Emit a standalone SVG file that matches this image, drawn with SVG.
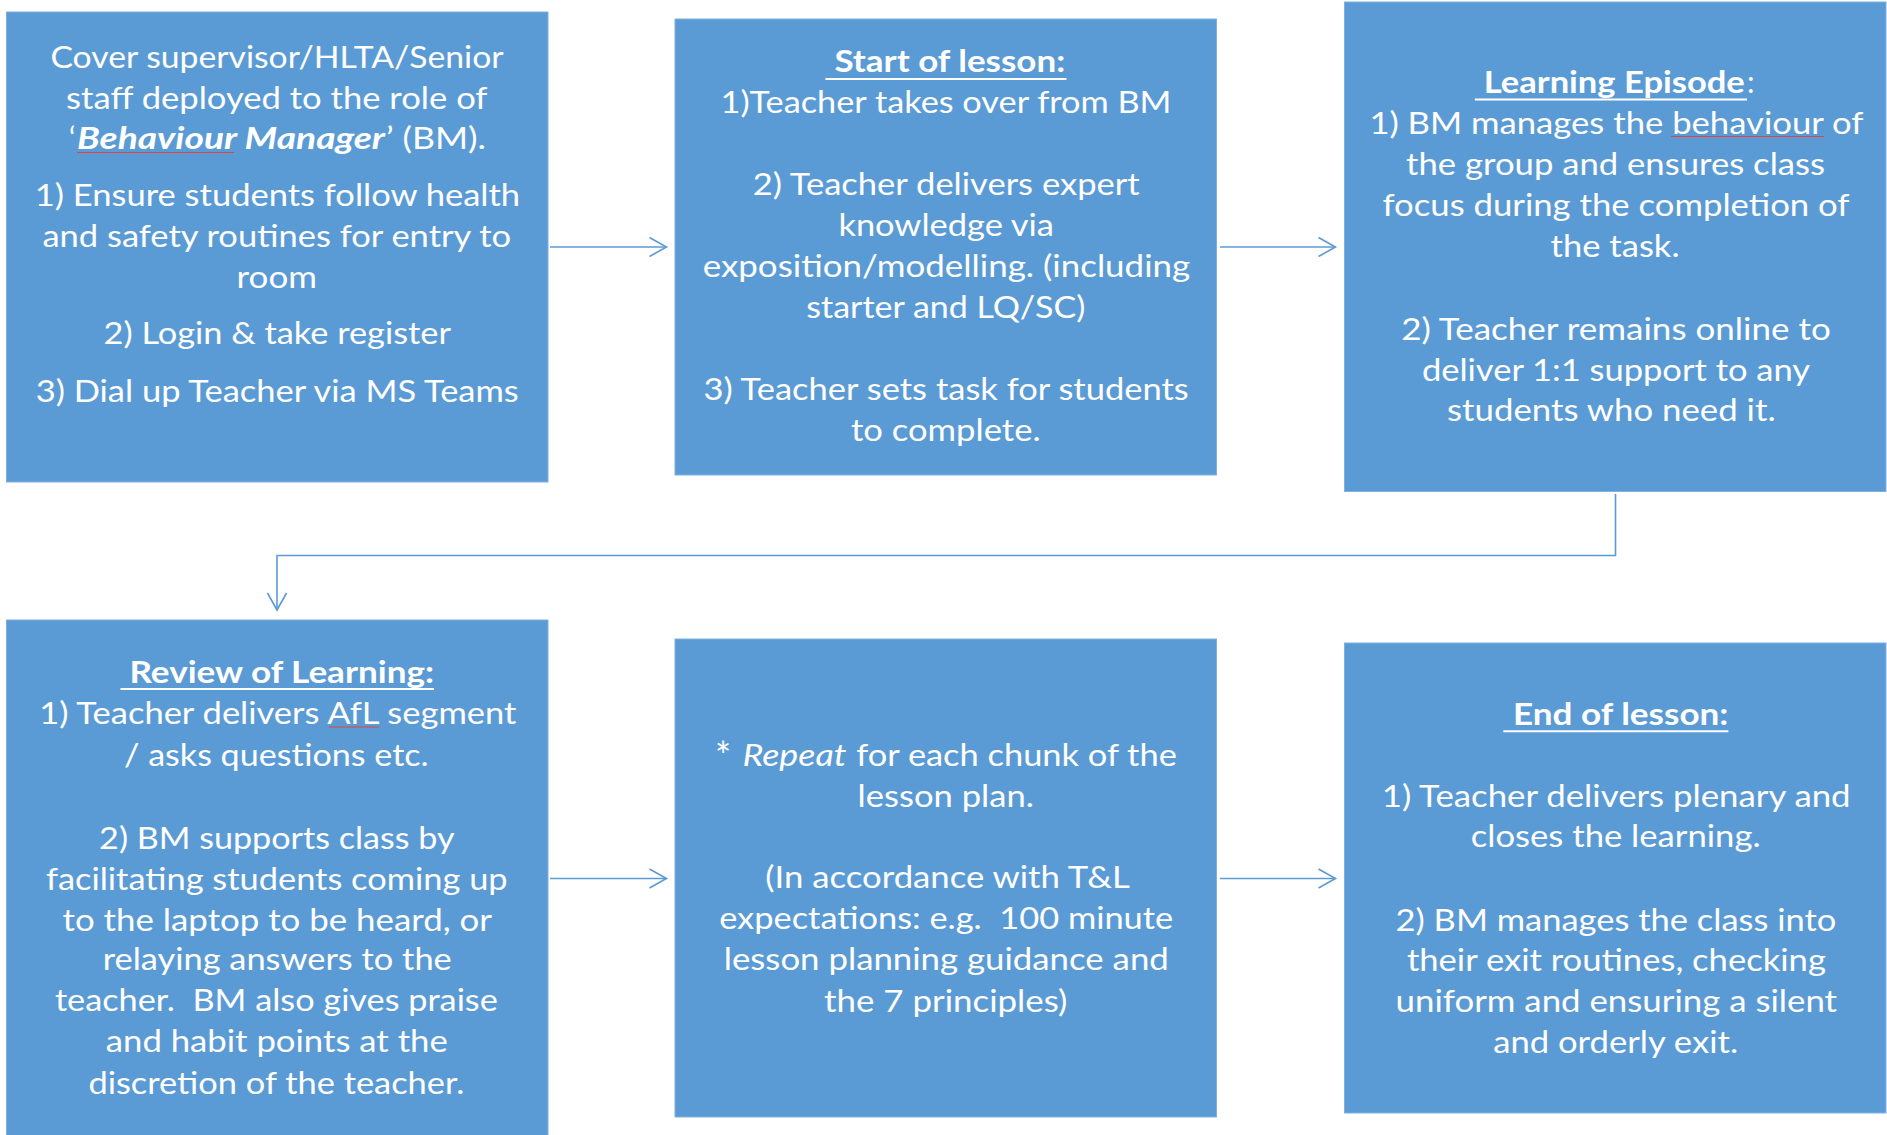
<svg xmlns="http://www.w3.org/2000/svg" width="1887" height="1135" viewBox="0 0 1887 1135">
<style>
.box{fill:#5B9BD5;stroke:#7FB0DE;stroke-width:1}
.t{font-family:Lato,"Open Sans","Liberation Sans",sans-serif;font-size:30px;fill:#FFFFFF}
.b{font-weight:bold}
.i{font-style:italic}
.ul{stroke:#FFFFFF;stroke-width:2}
.sp{stroke:#E0463F;stroke-width:1}
.conn{fill:none;stroke:#5B9BD5;stroke-width:1.6}
</style>
<defs>
<marker id="arr" markerUnits="userSpaceOnUse" markerWidth="20" markerHeight="22" refX="17" refY="10" orient="auto" overflow="visible">
<path d="M0,0.5 L17,10 L0,19.5" fill="none" stroke="#5B9BD5" stroke-width="1.6"/>
</marker>
</defs>

<g id="connectors">
<line class="conn" x1="550" y1="247" x2="666.5" y2="247" marker-end="url(#arr)"/>
<line class="conn" x1="1220" y1="247" x2="1335.5" y2="247" marker-end="url(#arr)"/>
<polyline class="conn" points="1615.5,494 1615.5,555.5 277,555.5 277,610" marker-end="url(#arr)"/>
<line class="conn" x1="550" y1="878.5" x2="666.5" y2="878.5" marker-end="url(#arr)"/>
<line class="conn" x1="1220" y1="878.5" x2="1335.5" y2="878.5" marker-end="url(#arr)"/>
</g>

<g id="node-behaviour-manager">
<rect class="box" x="6.5" y="12" width="541.5" height="470"/>
<text class="t" x="50.4" y="67.6" textLength="453.2" lengthAdjust="spacingAndGlyphs">Cover supervisor/HLTA/Senior</text>
<text class="t" x="66.1" y="108.5" textLength="421.4" lengthAdjust="spacingAndGlyphs">staff deployed to the role of</text>
<text class="t" x="69" y="149.4">‘</text>
<text class="t b i" x="77" y="149.4" textLength="308" lengthAdjust="spacingAndGlyphs">Behaviour Manager</text>
<text class="t" x="386" y="149.4" textLength="100" lengthAdjust="spacingAndGlyphs">’ (BM).</text>
<line class="sp" x1="77" y1="152.5" x2="234" y2="152.5"/>
<text class="t" x="34.8" y="206" textLength="485.3" lengthAdjust="spacingAndGlyphs">1) Ensure students follow health</text>
<text class="t" x="42.4" y="246.9" textLength="468.8" lengthAdjust="spacingAndGlyphs">and safety routines for entry to</text>
<text class="t" x="236.6" y="287.8" textLength="80.4" lengthAdjust="spacingAndGlyphs">room</text>
<text class="t" x="103.6" y="344.4" textLength="347.3" lengthAdjust="spacingAndGlyphs">2) Login &amp; take register</text>
<text class="t" x="35.7" y="402.1" textLength="483.1" lengthAdjust="spacingAndGlyphs">3) Dial up Teacher via MS Teams</text>
</g>

<g id="node-start-of-lesson">
<rect class="box" x="675" y="19" width="541.5" height="456"/>
<text class="t b" x="834.4" y="72.4" textLength="230.8" lengthAdjust="spacingAndGlyphs">Start of lesson:</text>
<line class="ul" x1="825.4" y1="79" x2="1066.5" y2="79"/>
<text class="t" x="720.5" y="113.3" textLength="450.9" lengthAdjust="spacingAndGlyphs">1)Teacher takes over from BM</text>
<text class="t" x="752.7" y="195.1" textLength="387" lengthAdjust="spacingAndGlyphs">2) Teacher delivers expert</text>
<text class="t" x="838.4" y="236" textLength="215.6" lengthAdjust="spacingAndGlyphs">knowledge via</text>
<text class="t" x="702.7" y="277" textLength="487.5" lengthAdjust="spacingAndGlyphs">exposition/modelling. (including</text>
<text class="t" x="806.3" y="317.9" textLength="279" lengthAdjust="spacingAndGlyphs">starter and LQ/SC)</text>
<text class="t" x="703.6" y="399.7" textLength="485.2" lengthAdjust="spacingAndGlyphs">3) Teacher sets task for students</text>
<text class="t" x="850.9" y="440.6" textLength="189.7" lengthAdjust="spacingAndGlyphs">to complete.</text>
</g>

<g id="node-learning-episode">
<rect class="box" x="1344.5" y="2" width="541.5" height="489.5"/>
<text class="t b" x="1483.8" y="92.8" textLength="261" lengthAdjust="spacingAndGlyphs">Learning Episode</text>
<text class="t" x="1747" y="92.8">:</text>
<line class="ul" x1="1474.8" y1="99.4" x2="1747" y2="99.4"/>
<text class="t" x="1369.4" y="133.8" textLength="494" lengthAdjust="spacingAndGlyphs">1) BM manages the behaviour of</text>
<line class="sp" x1="1671" y1="136.5" x2="1824" y2="136.5"/>
<text class="t" x="1406.1" y="174.7" textLength="419" lengthAdjust="spacingAndGlyphs">the group and ensures class</text>
<text class="t" x="1382.5" y="215.6" textLength="467" lengthAdjust="spacingAndGlyphs">focus during the completion of</text>
<text class="t" x="1550.6" y="256.5" textLength="129" lengthAdjust="spacingAndGlyphs">the task.</text>
<text class="t" x="1401.3" y="339.6" textLength="429.5" lengthAdjust="spacingAndGlyphs">2) Teacher remains online to</text>
<text class="t" x="1421.9" y="380.5" textLength="388.2" lengthAdjust="spacingAndGlyphs">deliver 1:1 support to any</text>
<text class="t" x="1447" y="421.4" textLength="328.6" lengthAdjust="spacingAndGlyphs">students who need it.</text>
</g>

<g id="node-review-of-learning">
<rect class="box" x="6.5" y="620" width="541.5" height="516"/>
<text class="t b" x="129.5" y="682.6" textLength="304.5" lengthAdjust="spacingAndGlyphs">Review of Learning:</text>
<line class="ul" x1="120.5" y1="689" x2="434" y2="689"/>
<text class="t" x="39.3" y="723.5" textLength="477.2" lengthAdjust="spacingAndGlyphs">1) Teacher delivers AfL segment</text>
<line class="sp" x1="329" y1="727" x2="379" y2="727"/>
<text class="t" x="124" y="765.6" textLength="304.6" lengthAdjust="spacingAndGlyphs">/ asks questions etc.</text>
<text class="t" x="99.1" y="848.6" textLength="355.4" lengthAdjust="spacingAndGlyphs">2) BM supports class by</text>
<text class="t" x="46" y="889.6" textLength="461.6" lengthAdjust="spacingAndGlyphs">facilitating students coming up</text>
<text class="t" x="62.5" y="930.5" textLength="429.5" lengthAdjust="spacingAndGlyphs">to the laptop to be heard, or</text>
<text class="t" x="102.7" y="970.2" textLength="349.1" lengthAdjust="spacingAndGlyphs">relaying answers to the</text>
<text class="t" x="54.9" y="1011.1" textLength="442.9" lengthAdjust="spacingAndGlyphs" xml:space="preserve">teacher.  BM also gives praise</text>
<text class="t" x="105.8" y="1052" textLength="342" lengthAdjust="spacingAndGlyphs">and habit points at the</text>
<text class="t" x="88.4" y="1094.2" textLength="375.9" lengthAdjust="spacingAndGlyphs">discretion of the teacher.</text>
</g>

<g id="node-repeat">
<rect class="box" x="675" y="639" width="541.5" height="478"/>
<text class="t" x="715" y="770" style="font-size:38px">*</text>
<text class="t i" x="742.4" y="765.6" textLength="104" lengthAdjust="spacingAndGlyphs">Repeat</text>
<text class="t" x="856.3" y="765.6" textLength="320.5" lengthAdjust="spacingAndGlyphs">for each chunk of the</text>
<text class="t" x="857.6" y="806.5" textLength="176.3" lengthAdjust="spacingAndGlyphs">lesson plan.</text>
<text class="t" x="765.2" y="888.4" textLength="364.7" lengthAdjust="spacingAndGlyphs">(In accordance with T&amp;L</text>
<text class="t" x="719.2" y="929.3" textLength="454" lengthAdjust="spacingAndGlyphs" xml:space="preserve">expectations: e.g.  100 minute</text>
<text class="t" x="723.7" y="970.2" textLength="445.1" lengthAdjust="spacingAndGlyphs">lesson planning guidance and</text>
<text class="t" x="824.1" y="1012.3" textLength="243.3" lengthAdjust="spacingAndGlyphs">the 7 principles)</text>
</g>

<g id="node-end-of-lesson">
<rect class="box" x="1344.5" y="643" width="541.5" height="470"/>
<text class="t b" x="1513" y="724.7" textLength="215.4" lengthAdjust="spacingAndGlyphs">End of lesson:</text>
<line class="ul" x1="1503.3" y1="731.3" x2="1728.4" y2="731.3"/>
<text class="t" x="1381.8" y="806.5" textLength="468.8" lengthAdjust="spacingAndGlyphs">1) Teacher delivers plenary and</text>
<text class="t" x="1470.7" y="847.4" textLength="289.9" lengthAdjust="spacingAndGlyphs">closes the learning.</text>
<text class="t" x="1395.6" y="930.5" textLength="440.8" lengthAdjust="spacingAndGlyphs">2) BM manages the class into</text>
<text class="t" x="1406.9" y="971.4" textLength="419" lengthAdjust="spacingAndGlyphs">their exit routines, checking</text>
<text class="t" x="1395.6" y="1012.3" textLength="441.5" lengthAdjust="spacingAndGlyphs">uniform and ensuring a silent</text>
<text class="t" x="1493.2" y="1053.2" textLength="244.9" lengthAdjust="spacingAndGlyphs">and orderly exit.</text>
</g>
</svg>
